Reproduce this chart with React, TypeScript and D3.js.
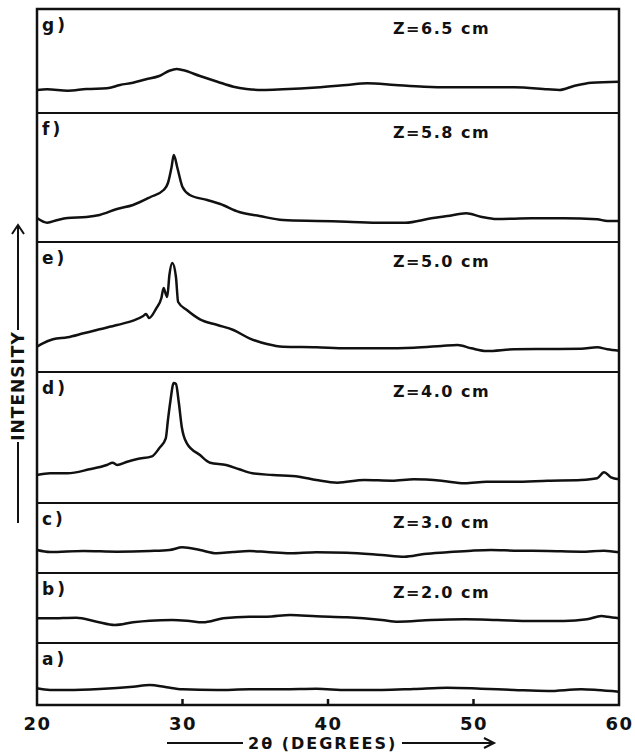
import React from "react";
import * as d3 from "d3";

// 2θ (degrees) vs intensity (arb. units, same units in every panel)
const traceA: [number, number][] = [[20.0,16.7],[20.9,15],[22.1,15],[24.3,16],[26.6,18.3],[27.75,20],[28.9,17.7],[30.0,15.7],[32.35,15],[34.6,15.7],[36.9,15.7],[39.2,16.2],[41.3,15],[43.7,15],[45.9,16],[48.2,17.3],[50.5,16.3],[52.8,15],[55.1,14],[57.4,15.7],[58.5,15],[60.0,13.3]];
const traceB: [number, number][] = [[20.0,24.7],[20.9,24.7],[22.7,25.3],[24.1,21.3],[25.35,18],[26.6,20.7],[27.75,22.3],[29.3,23],[30.3,22.3],[31.4,20.7],[32.8,24.7],[34.6,26.3],[35.8,26.3],[37.4,28],[39.2,26.7],[41.3,25.7],[43.7,23],[44.8,21.3],[47.1,23],[49.4,23.7],[51.6,23],[54.0,22],[56.2,22],[57.8,23.7],[58.8,27],[59.2,26.3],[60.0,24.7]];
const traceC: [number, number][] = [[20.0,23],[20.9,21],[23.2,22],[25.5,21.3],[27.75,22],[29.1,23],[30.0,25.7],[31.2,23],[32.35,19.7],[33.45,21],[34.6,22],[35.8,21],[37.4,19.7],[39.2,20.7],[41.3,20.3],[43.7,18],[45.25,16.3],[46.6,19],[48.2,20.7],[49.85,22.3],[51.2,23],[52.8,22.3],[55.1,22],[57.4,21.3],[58.97,22.3],[60.0,20.7]];
const traceD: [number, number][] = [[20.0,28],[20.9,29.7],[22.1,29.7],[23.6,33.7],[24.8,38],[25.2,40.3],[25.5,38],[26.2,41.3],[26.9,44],[27.9,46.7],[28.4,54.7],[28.85,64.7],[29.0,83],[29.15,100],[29.4,120],[29.55,119],[29.75,100],[29.95,76],[30.3,59.7],[31.2,48],[31.9,40.3],[33.0,38],[33.9,33.7],[34.8,29.7],[36.2,28],[38.0,26.3],[39.2,23],[40.65,20.3],[42.5,23],[44.4,22.3],[45.9,23.7],[47.8,22.3],[49.4,19.7],[50.9,21.3],[52.8,21.3],[55.1,22.3],[57.4,23],[58.5,24.7],[58.97,30.7],[59.45,25.7],[60.0,23.7]];
const traceE: [number, number][] = [[20.0,25.3],[20.4,28.7],[21.1,32.7],[22.1,34.7],[23.2,38.7],[24.3,42.7],[25.5,47],[26.6,51.3],[27.3,56],[27.5,58],[27.7,54],[28.2,63.7],[28.55,74],[28.7,84],[28.85,78],[28.95,75],[29.1,97],[29.3,109],[29.55,95],[29.7,70],[30.3,62],[31.2,52.7],[32.4,47],[33.5,42],[34.6,33.7],[35.8,28],[36.9,25.3],[39.2,24.7],[41.3,23.7],[43.7,23.7],[45.9,24.3],[47.8,26],[48.9,27],[49.85,23.7],[50.9,21],[52.8,22.7],[55.1,23],[57.4,23.3],[58.5,24.7],[59.2,22.7],[60.0,21.3]];
const traceF: [number, number][] = [[20.0,24],[20.7,19.3],[21.4,22],[22.1,24],[23.4,25],[24.3,27],[25.5,33],[26.6,37],[27.8,45],[28.7,52],[29.0,59],[29.25,75],[29.4,87],[29.65,74],[30.0,55],[30.5,47],[31.7,42],[32.6,38],[33.9,30],[35.3,26],[36.9,22],[39.2,21],[41.3,20.3],[43.7,19.3],[45.3,19.3],[47.1,23.7],[48.2,26],[49.5,28.7],[50.5,25.3],[51.6,23],[54.0,23.7],[56.2,23.7],[58.5,22.7],[59.2,21],[60.0,21]];
const traceG: [number, number][] = [[20.0,23],[20.7,23.7],[22.1,22.3],[23.4,24],[24.8,24.7],[25.7,28],[26.6,30.3],[27.5,33.7],[28.4,37],[29.1,42.3],[29.6,44],[30.0,43],[31.2,37],[32.4,31.3],[33.5,26.3],[34.4,24],[35.5,23],[36.9,23.7],[39.2,25.5],[41.3,28],[42.7,29.7],[44.6,28],[46.6,26.3],[48.2,25.7],[50.5,25.7],[52.8,25.7],[55.1,23.7],[55.9,23],[56.9,27],[58.1,30.3],[60.0,31.3]];

const panelLetters = ["a)", "b)", "c)", "d)", "e)", "f)", "g)"];
const zLabels = ["", "Z=2.0 cm", "Z=3.0 cm", "Z=4.0 cm", "Z=5.0 cm", "Z=5.8 cm", "Z=6.5 cm"];
const xTicks = [20, 30, 40, 50, 60];

// layout
const W = 635;
const H = 752;
const frameTop = 9;
const frameBottom = 705;
// panel heights bottom (a) to top (g), in intensity units (1 unit = 1px)
const panelHeights = [62, 70, 70, 131, 130, 129, 104];
const FONT = "'DejaVu Sans', sans-serif";

const x = d3.scaleLinear().domain([20, 60]).range([37, 619]);

const traces = [traceA, traceB, traceC, traceD, traceE, traceF, traceG];

export default function App() {
  // stack panels from the bottom up
  let bottom = frameBottom;
  const panels = panelHeights.map((h, i) => {
    const y = d3.scaleLinear().domain([0, h]).range([bottom, bottom - h]);
    const p = { i, top: bottom - h, bottom, y };
    bottom -= h;
    return p;
  });

  const left = x(20);
  const right = x(60);

  return (
    <div style={{ position: "absolute", left: 0, top: 0 }}>
      <svg width={W} height={H} style={{ display: "block", background: "#fff" }} fontFamily={FONT}>
        {panels.map((p) => {
          const line = d3
            .line<[number, number]>()
            .x((d) => x(d[0]))
            .y((d) => p.y(d[1]))
            .curve(d3.curveMonotoneX);
          return (
            <g key={p.i}>
              <path d={line(traces[p.i]) || ""} fill="none" stroke="#111" strokeWidth={2.5} strokeLinejoin="round" />
              {p.i < panels.length - 1 && (
                <line x1={left} x2={right} y1={p.top} y2={p.top} stroke="#111" strokeWidth={2} />
              )}
              <text x={42} y={p.top + 22} fontSize={17} fontWeight="bold" letterSpacing={3} fill="#111">
                {panelLetters[p.i]}
              </text>
              {zLabels[p.i] && (
                <text x={393} y={p.top + 25} fontSize={16} fontWeight="bold" letterSpacing={1.5} fill="#111">
                  {zLabels[p.i]}
                </text>
              )}
            </g>
          );
        })}

        {/* frame */}
        <rect x={left} y={frameTop} width={right - left} height={frameBottom - frameTop} fill="none" stroke="#111" strokeWidth={2.5} />

        {/* x ticks */}
        {xTicks.map((t) => (
          <g key={t}>
            {t > 20 && t < 60 && (
              <line x1={x(t)} x2={x(t)} y1={frameBottom} y2={frameBottom - 6} stroke="#111" strokeWidth={2.5} />
            )}
            <text x={x(t) + 0.5} y={730} fontSize={18} fontWeight="bold" letterSpacing={1.5} textAnchor="middle" fill="#111">
              {t}
            </text>
          </g>
        ))}

        {/* x title with arrow */}
        <line x1={167} x2={243} y1={743} y2={743} stroke="#111" strokeWidth={2} />
        <text x={248} y={749} fontSize={16} fontWeight="bold" letterSpacing={2} fill="#111">
          2θ (DEGREES)
        </text>
        <line x1={402} x2={492} y1={743} y2={743} stroke="#111" strokeWidth={2} />
        <path d="M484,738 L494,743 L484,748" fill="none" stroke="#111" strokeWidth={2} />

        {/* y title with arrow */}
        <line x1={18} x2={18} y1={226} y2={330} stroke="#111" strokeWidth={2} />
        <path d="M12,234 L18,225 L24,234" fill="none" stroke="#111" strokeWidth={2} />
        <text
          transform="translate(24,386) rotate(-90)"
          fontSize={17}
          fontWeight="bold"
          letterSpacing={1}
          textAnchor="middle"
          fill="#111"
        >
          INTENSITY
        </text>
        <line x1={18} x2={18} y1={442} y2={523} stroke="#111" strokeWidth={2} />
      </svg>
    </div>
  );
}
